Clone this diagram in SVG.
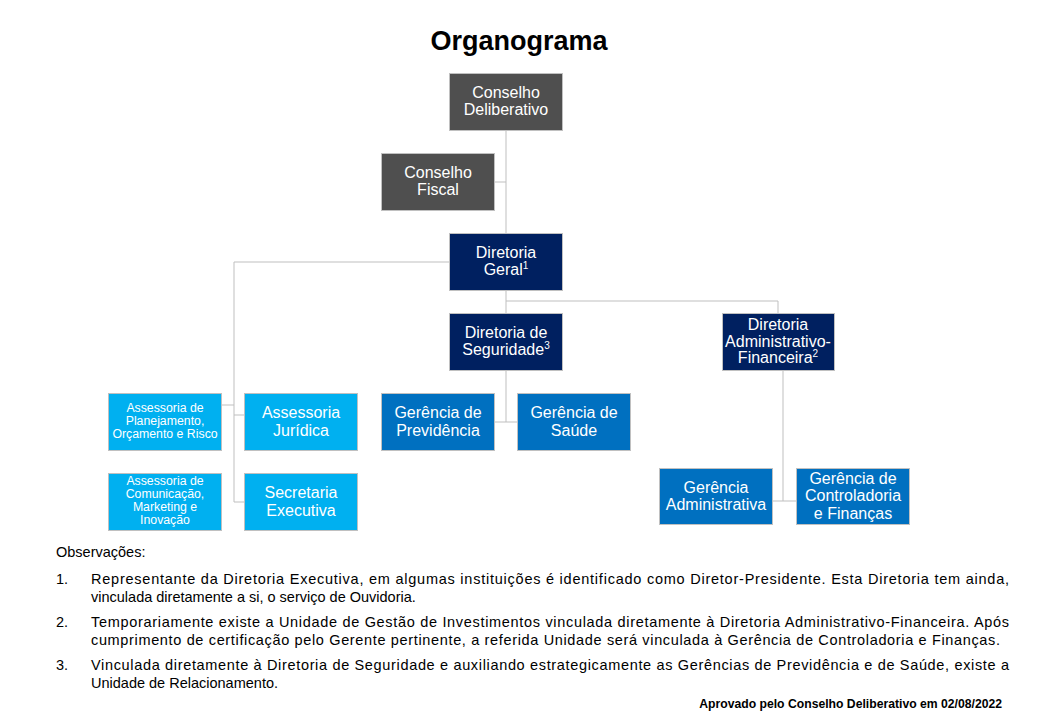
<svg xmlns="http://www.w3.org/2000/svg" width="1040" height="720" viewBox="0 0 1040 720">
<style>
.box{stroke:#c0c0c0;stroke-width:1}
.grey{fill:#4f4f4f}
.navy{fill:#002060}
.cyan{fill:#00b0f0}
.blue{fill:#0070c0}
.t{font-family:"Liberation Sans",Arial,sans-serif;font-size:16px;fill:#fff;text-anchor:middle}
.s{font-family:"Liberation Sans",Arial,sans-serif;font-size:12.3px;fill:#fff;text-anchor:middle}
.sup{font-size:10px}
.n{font-family:"Liberation Sans",Arial,sans-serif;font-size:14.5px;fill:#000}
.c{fill:none;stroke:#bfbfbf;stroke-width:1}
</style>
<rect width="1040" height="720" fill="#fff"/>
<text x="519" y="50" font-family="Liberation Sans,Arial,sans-serif" font-weight="bold" font-size="27" text-anchor="middle" fill="#000">Organograma</text>

<g id="connectors">
<path class="c" d="M506,130V233"/>
<path class="c" d="M494,182H506"/>
<path class="c" d="M449,262H234V502H244"/>
<path class="c" d="M221,405H234"/>
<path class="c" d="M234,415H244"/>
<path class="c" d="M506,290V313"/>
<path class="c" d="M506,301H778V313"/>
<path class="c" d="M506,370V422"/>
<path class="c" d="M494,422H517"/>
<path class="c" d="M783,370V501"/>
<path class="c" d="M772,501H796"/>
</g>

<g id="conselho-deliberativo"><rect class="box grey" x="449.5" y="73.5" width="113" height="57"/><text class="t" x="506" y="98">Conselho</text><text class="t" x="506" y="115">Deliberativo</text></g>
<g id="conselho-fiscal"><rect class="box grey" x="381.5" y="153.5" width="113" height="57"/><text class="t" x="438" y="178">Conselho</text><text class="t" x="438" y="195">Fiscal</text></g>
<g id="diretoria-geral"><rect class="box navy" x="449.5" y="233.5" width="113" height="57"/><text class="t" x="506" y="258">Diretoria</text><text class="t" x="506" y="275">Geral<tspan class="sup" dy="-6">1</tspan></text></g>
<g id="diretoria-seguridade"><rect class="box navy" x="449.5" y="313.5" width="113" height="57"/><text class="t" x="506" y="338">Diretoria de</text><text class="t" x="506" y="355">Seguridade<tspan class="sup" dy="-6">3</tspan></text></g>
<g id="diretoria-adm-fin"><rect class="box navy" x="722.5" y="313.5" width="112" height="57"/><text class="t" x="778" y="330">Diretoria</text><text class="t" x="778" y="347">Administrativo-</text><text class="t" x="778" y="363">Financeira<tspan class="sup" dy="-6">2</tspan></text></g>

<g id="assessoria-planejamento"><rect class="box cyan" x="108.5" y="393.5" width="113" height="57"/><text class="s" x="165" y="412">Assessoria de</text><text class="s" x="165" y="425">Planejamento,</text><text class="s" x="165" y="438">Orçamento e Risco</text></g>
<g id="assessoria-juridica"><rect class="box cyan" x="244.5" y="393.5" width="113" height="57"/><text class="t" x="301" y="418">Assessoria</text><text class="t" x="301" y="436">Jurídica</text></g>
<g id="assessoria-comunicacao"><rect class="box cyan" x="108.5" y="473.5" width="113" height="57"/><text class="s" x="165" y="485">Assessoria de</text><text class="s" x="165" y="498">Comunicação,</text><text class="s" x="165" y="511">Marketing e</text><text class="s" x="165" y="524">Inovação</text></g>
<g id="secretaria-executiva"><rect class="box cyan" x="244.5" y="473.5" width="113" height="57"/><text class="t" x="301" y="498">Secretaria</text><text class="t" x="301" y="516">Executiva</text></g>

<g id="gerencia-previdencia"><rect class="box blue" x="381.5" y="393.5" width="113" height="57"/><text class="t" x="438" y="418">Gerência de</text><text class="t" x="438" y="436">Previdência</text></g>
<g id="gerencia-saude"><rect class="box blue" x="517.5" y="393.5" width="113" height="57"/><text class="t" x="574" y="418">Gerência de</text><text class="t" x="574" y="436">Saúde</text></g>
<g id="gerencia-administrativa"><rect class="box blue" x="659.5" y="468.5" width="113" height="56"/><text class="t" x="716" y="493">Gerência</text><text class="t" x="716" y="510">Administrativa</text></g>
<g id="gerencia-controladoria"><rect class="box blue" x="796.5" y="468.5" width="113" height="56"/><text class="t" x="853" y="484">Gerência de</text><text class="t" x="853" y="501">Controladoria</text><text class="t" x="853" y="519">e Finanças</text></g>

<g id="notes">
<text class="n" x="56" y="557">Observações:</text>
<text class="n" x="56" y="584">1.</text>
<text class="n" x="91" y="584" textLength="918" lengthAdjust="spacing">Representante da Diretoria Executiva, em algumas instituições é identificado como Diretor-Presidente. Esta Diretoria tem ainda,</text>
<text class="n" x="91" y="602">vinculada diretamente a si, o serviço de Ouvidoria.</text>
<text class="n" x="56" y="627">2.</text>
<text class="n" x="91" y="627" textLength="918" lengthAdjust="spacing">Temporariamente existe a Unidade de Gestão de Investimentos vinculada diretamente à Diretoria Administrativo-Financeira. Após</text>
<text class="n" x="91" y="645" textLength="909" lengthAdjust="spacing">cumprimento de certificação pelo Gerente pertinente, a referida Unidade será vinculada à Gerência de Controladoria e Finanças.</text>
<text class="n" x="56" y="670">3.</text>
<text class="n" x="91" y="670" textLength="918" lengthAdjust="spacing">Vinculada diretamente à Diretoria de Seguridade e auxiliando estrategicamente as Gerências de Previdência e de Saúde, existe a</text>
<text class="n" x="91" y="688">Unidade de Relacionamento.</text>
<text x="1002" y="708" font-family="Liberation Sans,Arial,sans-serif" font-weight="bold" font-size="12.2" text-anchor="end" fill="#000">Aprovado pelo Conselho Deliberativo em 02/08/2022</text>
</g>
</svg>
